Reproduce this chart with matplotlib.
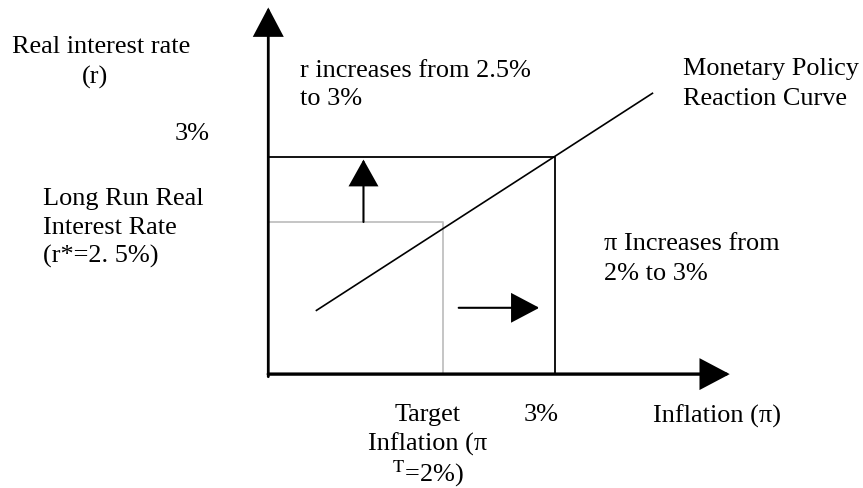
import matplotlib
matplotlib.use("Agg")
from matplotlib import pyplot as plt

plt.rcParams['font.family'] = ['Liberation Serif', 'DejaVu Serif']
plt.rcParams['mathtext.fontset'] = 'stix'

# diagram values (inflation %, real rate %)
origin_pi = 0.44
origin_r = 1.33
pi_axis_end = 4.56
r_axis_end = 4.15
pi_target = 2.0
pi_new = 3.0
r_star = 2.5
r_new = 3.0
curve_pi = [0.87, 3.87]
curve_r = [1.82, 3.49]
up_arrow_pi = 1.29
right_arrow_r = 1.84
right_arrow_pi = [2.14, 2.86]

W, H = 863, 489
fig = plt.figure(figsize=(W / 100, H / 100), dpi=100)
ax = fig.add_axes([0, 0, 1, 1])
ax.set_xlim(-219 / 112, (W - 219) / 112)
ax.set_ylim(2.5 - (H - 223) / 130, 2.5 + 223 / 130)
ax.axis('off')


def arrow(tail, tip, lw, hl, hw):
    ax.annotate('', xy=tip, xytext=tail,
                arrowprops=dict(arrowstyle='-|>,head_length=%g,head_width=%g' % (hl, hw),
                                lw=lw, color='black', shrinkA=0, shrinkB=0,
                                mutation_scale=1, joinstyle='miter'))


# axes
arrow((origin_pi, origin_r - 0.02), (origin_pi, r_axis_end), 2.0, 18, 9.5)
arrow((origin_pi, origin_r), (pi_axis_end, origin_r), 2.4, 18, 9.5)

# grey box (initial equilibrium)
ax.plot([origin_pi, pi_target, pi_target], [r_star, r_star, origin_r], color='#c0c0c0', lw=1.3)
# black box (new equilibrium)
ax.plot([origin_pi, pi_new, pi_new], [r_new, r_new, origin_r], color='black', lw=1.3)
# reaction curve
ax.plot(curve_pi, curve_r, color='black', lw=1.2)

# shift arrows
arrow((up_arrow_pi, r_star), (up_arrow_pi, 2.98), 1.5, 17, 9.5)
arrow((right_arrow_pi[0], right_arrow_r), (right_arrow_pi[1], right_arrow_r), 1.5, 18, 9.5)

FS = 18.9


def label(x, y, lines, ha='left', dy=29):
    for i, s in enumerate(lines):
        fig.text(x / W, 1 - (y + i * dy) / H, s, ha=ha, va='baseline', fontsize=FS)


label(12, 53, ['Real interest rate'])
label(95, 84, ['(r)'], ha='center')
label(210, 140, ['3%'], ha='right')
label(43, 205, ['Long Run Real', 'Interest Rate', '(r*=2. 5%)'])
label(300, 77, ['r increases from 2.5%', 'to 3%'], dy=28)
label(683, 75, ['Monetary Policy', 'Reaction Curve'], dy=30)
label(604, 250, ['\u03c0 Increases from', '2% to 3%'], dy=30)
label(428, 421, ['Target', 'Inflation (\u03c0', r'$^{\mathrm{T}}$=2%)'], ha='center', dy=30)
label(541, 421, ['3%'], ha='center')
label(653, 423, ['Inflation (\u03c0)'])

fig.savefig('out.png', dpi=100)
